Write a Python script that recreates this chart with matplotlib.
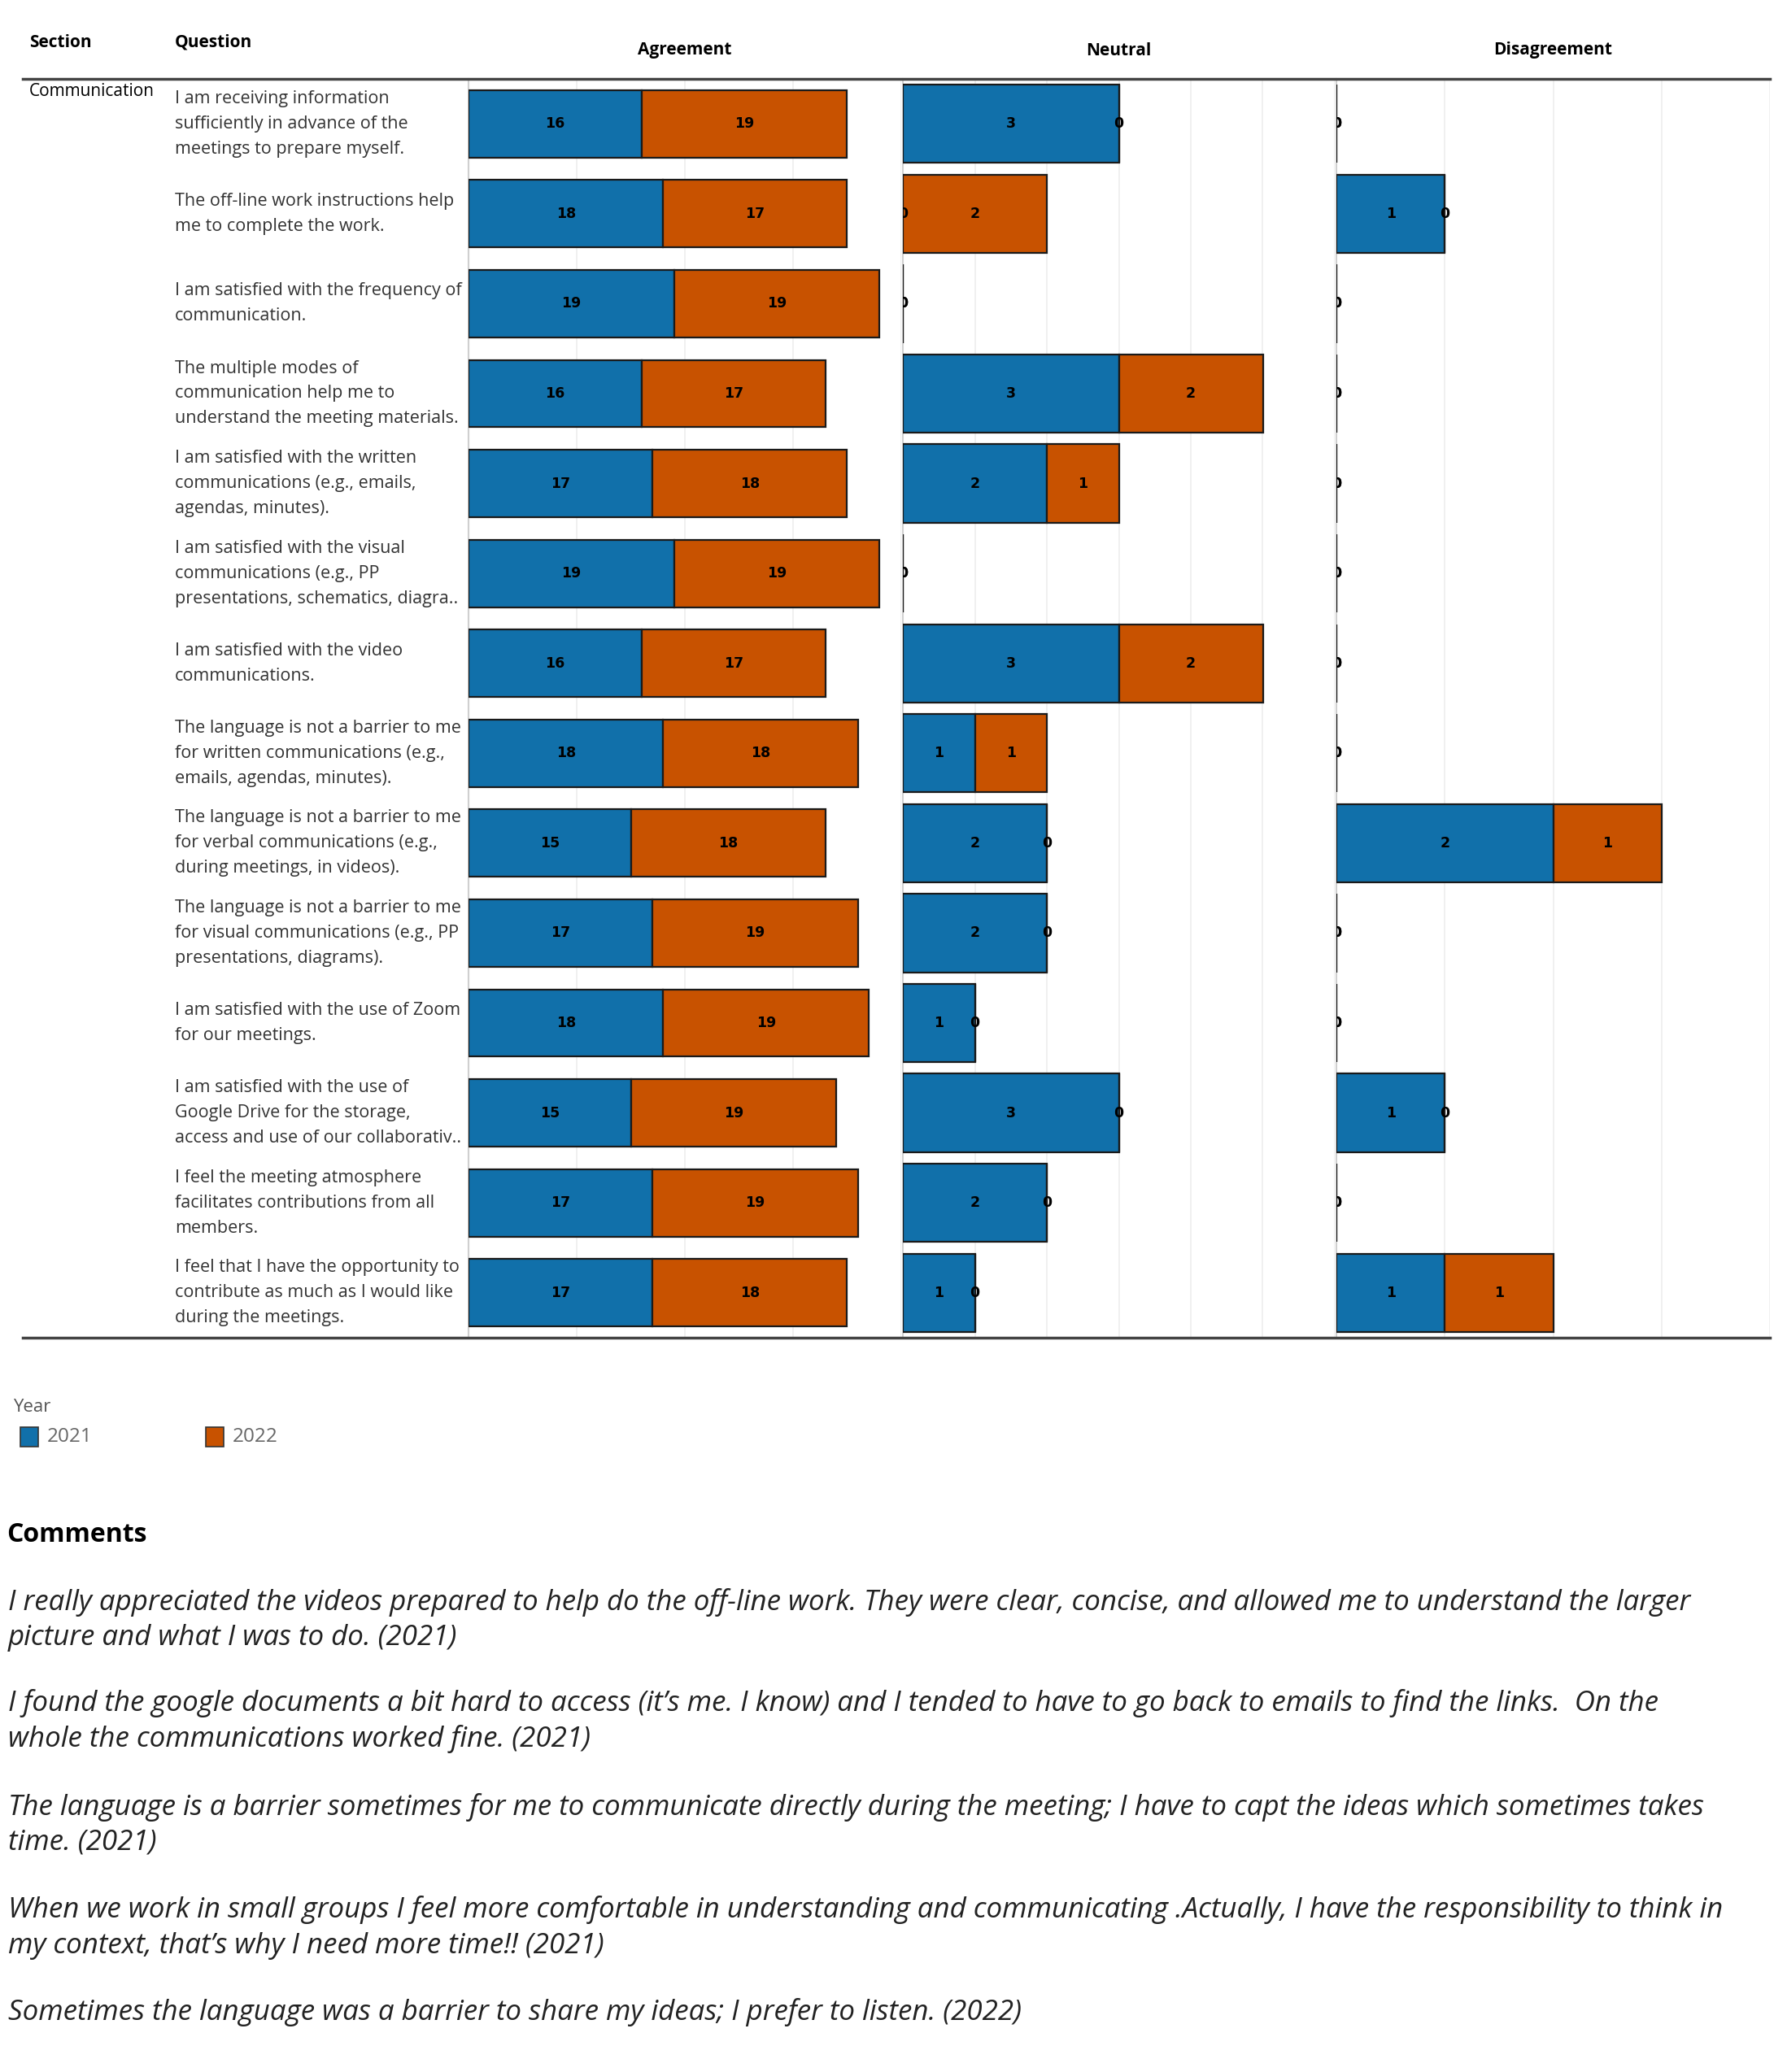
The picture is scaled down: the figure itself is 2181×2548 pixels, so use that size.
import matplotlib
matplotlib.use("Agg")
import matplotlib.pyplot as plt

W, H = 2181, 2548
DPI = 100

questions = [
    "I am receiving information\nsufficiently in advance of the\nmeetings to prepare myself.",
    "The off-line work instructions help\nme to complete the work.",
    "I am satisfied with the frequency of\ncommunication.",
    "The multiple modes of\ncommunication help me to\nunderstand the meeting materials.",
    "I am satisfied with the written\ncommunications (e.g., emails,\nagendas, minutes).",
    "I am satisfied with the visual\ncommunications (e.g., PP\npresentations, schematics, diagra..",
    "I am satisfied with the video\ncommunications.",
    "The language is not a barrier to me\nfor written communications (e.g.,\nemails, agendas, minutes).",
    "The language is not a barrier to me\nfor verbal communications (e.g.,\nduring meetings, in videos).",
    "The language is not a barrier to me\nfor visual communications (e.g., PP\npresentations, diagrams).",
    "I am satisfied with the use of Zoom\nfor our meetings.",
    "I am satisfied with the use of\nGoogle Drive for the storage,\naccess and use of our collaborativ..",
    "I feel the meeting atmosphere\nfacilitates contributions from all\nmembers.",
    "I feel that I have the opportunity to\ncontribute as much as I would like\nduring the meetings.",
]
section = "Communication"
years = ["2021", "2022"]
colors = ["#1170aa", "#c85200"]
panels = ["Agreement", "Neutral", "Disagreement"]

agree_2021 = [16, 18, 19, 16, 17, 19, 16, 18, 15, 17, 18, 15, 17, 17]
agree_2022 = [19, 17, 19, 17, 18, 19, 17, 18, 18, 19, 19, 19, 19, 18]
neutral_2021 = [3, 0, 0, 3, 2, 0, 3, 1, 2, 2, 1, 3, 2, 1]
neutral_2022 = [0, 2, 0, 2, 1, 0, 2, 1, 0, 0, 0, 0, 0, 0]
disagree_2021 = [0, 1, 0, 0, 0, 0, 0, 0, 2, 0, 0, 1, 0, 1]
disagree_2022 = [0, 0, 0, 0, 0, 0, 0, 0, 1, 0, 0, 0, 0, 1]

comments = [
    "I really appreciated the videos prepared to help do the off-line work. They were clear, concise, and allowed me to understand the larger\npicture and what I was to do. (2021)",
    "I found the google documents a bit hard to access (it\u2019s me. I know) and I tended to have to go back to emails to find the links.  On the\nwhole the communications worked fine. (2021)",
    "The language is a barrier sometimes for me to communicate directly during the meeting; I have to capt the ideas which sometimes takes\ntime. (2021)",
    "When we work in small groups I feel more comfortable in understanding and communicating .Actually, I have the responsibility to think in\nmy context, that\u2019s why I need more time!! (2021)",
    "Sometimes the language was a barrier to share my ideas; I prefer to listen. (2022)",
]

FONT = "Open Sans"
plt.rcParams["font.family"] = [FONT, "DejaVu Sans"]

fig = plt.figure(figsize=(W / DPI, H / DPI), dpi=DPI)


def fx(x):
    return x / W


def fy(y):
    return 1 - y / H


TOP, BOT = 97, 1645
panel_x = [(576, 1108), (1110, 1641), (1643, 2176)]
xlims = [40, 6, 4]
gridsteps = [10, 1, 1]
bar_h = [0.75, 0.87, 0.87]
data = [(agree_2021, agree_2022), (neutral_2021, neutral_2022), (disagree_2021, disagree_2022)]

n = len(questions)
rows = list(range(n))

for p, (x0, x1) in enumerate(panel_x):
    ax = fig.add_axes([fx(x0), fy(BOT), (x1 - x0) / W, (BOT - TOP) / H])
    ax.set_xlim(0, xlims[p])
    ax.set_ylim(n - 0.5, -0.5)
    ax.set_xticks(list(range(0, xlims[p] + 1, gridsteps[p])))
    ax.set_yticks([])
    ax.tick_params(length=0, labelbottom=False)
    ax.grid(axis="x", color="#eeeeee", lw=1.2)
    ax.set_axisbelow(True)
    for s in ["top", "right", "bottom"]:
        ax.spines[s].set_visible(False)
    ax.spines["left"].set_color("#d0d0d0")
    ax.spines["left"].set_linewidth(1.5)
    v21, v22 = data[p]
    ax.barh(rows, v21, height=bar_h[p], color=colors[0], edgecolor="#1a1a1a", lw=1.6, zorder=3)
    ax.barh(rows, v22, left=v21, height=bar_h[p], color=colors[1], edgecolor="#1a1a1a", lw=1.6, zorder=3)
    for i in rows:
        for left, w in ((0, v21[i]), (v21[i], v22[i])):
            ax.text(left + w / 2, i, str(w), ha="center", va="center", fontsize=12.5,
                    fontweight="bold", color="black", zorder=5, clip_on=True,
                    family=["DejaVu Sans"])
    fig.text(fx((x0 + x1) / 2), fy(62), panels[p], ha="center", va="center",
             fontsize=15, fontweight="bold")

# header texts
fig.text(fx(36), fy(52), "Section", ha="left", va="center", fontsize=15, fontweight="bold")
fig.text(fx(215), fy(52), "Question", ha="left", va="center", fontsize=15, fontweight="bold")

# horizontal rules
fig.add_artist(plt.Line2D([fx(28), fx(2176)], [fy(TOP), fy(TOP)], color="#444444", lw=2.5))
fig.add_artist(plt.Line2D([fx(28), fx(2176)], [fy(BOT), fy(BOT)], color="#444444", lw=2.5))

fig.text(fx(36), fy(112), section, ha="left", va="center", fontsize=15)
row_h = (BOT - TOP) / n
for i, q in enumerate(questions):
    yc = TOP + row_h * (i + 0.5)
    fig.text(fx(215), fy(yc), q, ha="left", va="center", fontsize=15.5, linespacing=1.62,
             color="#333333")

# legend
fig.text(fx(16), fy(1731), "Year", ha="left", va="center", fontsize=16, color="#555555")
leg_x = [25, 253]
for k, yr in enumerate(years):
    fig.add_artist(plt.Rectangle((fx(leg_x[k]), fy(1779)), 22 / W, 24 / H,
                                 facecolor=colors[k], edgecolor="#333333", lw=1.2,
                                 transform=fig.transFigure))
    fig.text(fx(leg_x[k] + 33), fy(1767), yr, ha="left", va="center", fontsize=17.5,
             color="#666666")

# comments
fig.text(fx(8), fy(1887), "Comments", ha="left", va="center", fontsize=23, fontweight="bold")
first_y = [1970, 2095, 2222, 2349, 2475]
for c, y0 in zip(comments, first_y):
    for j, line in enumerate(c.split("\n")):
        fig.text(fx(10), fy(y0 + 44 * j), line, ha="left", va="center", fontsize=25.1,
                 style="italic", color="#222222")

fig.savefig("out.png", dpi=DPI)
